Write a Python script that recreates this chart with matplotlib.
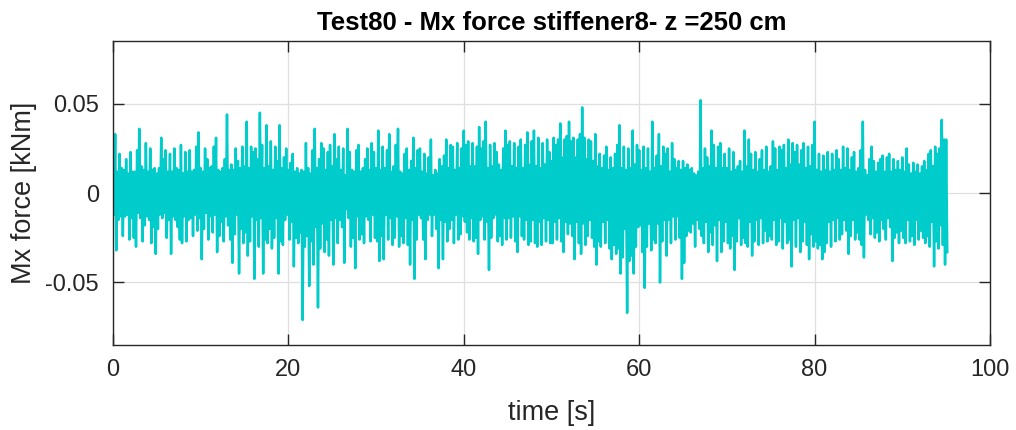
import numpy as np
import matplotlib
matplotlib.use("Agg")
import matplotlib.pyplot as plt

# Mx signal, in 1e-3 kNm, one value every 0.125 s
# (one row = 2.5 s)
dt = 0.125
mx_milli = [
    8, -12, 33, -32, 12, -15, 22, -13, 14, -24, 13, -13, 19, -12, 11, -26, 23, -14, 12, -25,
    12, -30, 24, -11, 36, -14, 15, -27, 13, -18, 28, -13, 12, -15, 25, -28, 13, -19, 14, -34,
    11, -20, 14, -12, 31, -14, 19, -11, 24, -25, 12, -15, 22, -34, 12, -13, 25, -15, 14, -19,
    13, -26, 27, -28, 11, -13, 23, -27, 12, -15, 24, -14, 12, -24, 13, -12, 26, -21, 34, -14,
    14, -37, 12, -20, 25, -11, 19, -26, 14, -13, 15, -22, 26, -12, 31, -33, 13, -24, 12, -16,
    14, -27, 19, -13, 44, -18, 13, -26, 16, -39, 13, -23, 25, -12, 18, -45, 14, -20, 26, -28,
    15, -22, 40, -35, 14, -27, 26, -13, 23, -48, 25, -15, 19, -30, 45, -14, 27, -45, 14, -26,
    38, -28, 15, -20, 29, -31, 13, -25, 26, -14, 18, -45, 38, -27, 14, -29, 20, -15, 25, -12,
    13, -26, 17, -16, 22, -41, 12, -25, 14, -28, 11, -22, 13, -71, 12, -30, 28, -24, 14, -52,
    11, -27, 24, -40, 36, -19, 14, -64, 19, -31, 28, -17, 25, -33, 13, -26, 23, -35, 27, -15,
    15, -40, 33, -14, 19, -28, 26, -15, 13, -19, 25, -39, 10, -9, 36, -14, 23, -30, 13, -25,
    12, -42, 24, -13, 27, -26, 12, -23, 14, -28, 19, -13, 25, -15, 13, -27, 28, -12, 23, -25,
    14, -27, 35, -38, 13, -24, 26, -37, 14, -12, 24, -26, 33, -14, 12, -29, 15, -25, 27, -13,
    36, -30, 12, -24, 11, -28, 22, -14, 25, -29, 13, -40, 18, -15, 31, -48, 14, -26, 24, -12,
    25, -14, 12, -26, 22, -37, 11, -15, 20, -12, 30, -24, 10, -12, 13, -20, 11, -42, 19, -15,
    15, -37, 21, -16, 30, -27, 14, -20, 27, -15, 26, -28, 13, -12, 28, -26, 14, -23, 25, -13,
    35, -16, 27, -22, 29, -26, 15, -14, 28, -27, 15, -25, 26, -34, 37, -15, 25, -13, 29, -26,
    40, -16, 14, -43, 27, -25, 15, -14, 28, -12, 23, -27, 16, -24, 13, -29, 25, -14, 35, -26,
    27, -14, 29, -25, 15, -13, 28, -27, 14, -33, 26, -13, 30, -24, 14, -26, 27, -15, 34, -29,
    16, -27, 29, -15, 35, -28, 15, -30, 31, -16, 14, -29, 28, -14, 16, -27, 30, -15, 23, -28,
    18, -28, 31, -16, 27, -26, 30, -14, 39, -27, 20, -33, 30, -16, 32, -23, 40, -17, 29, -24,
    31, -37, 20, -16, 30, -28, 33, -34, 48, -17, 31, -29, 19, -24, 30, -15, 29, -25, 18, -30,
    33, -40, 15, -27, 22, -30, 14, -16, 21, -28, 26, -15, 13, -31, 20, -37, 14, -29, 22, -34,
    27, -31, 38, -45, 14, -36, 26, -20, 13, -67, 25, -38, 14, -35, 35, -45, 16, -30, 27, -19,
    24, -18, 13, -33, 26, -53, 14, -30, 25, -17, 12, -32, 40, -26, 14, -28, 21, -17, 33, -50,
    15, -27, 26, -15, 22, -35, 25, -15, 12, -28, 28, -13, 19, -26, 14, -13, 18, -25, 13, -48,
    18, -39, 14, -24, 16, -21, 13, -22, 14, -17, 11, -30, 10, -15, 12, -20, 52, -24, 14, -28,
    25, -16, 20, -33, 15, -22, 35, -29, 27, -18, 14, -38, 26, -15, 28, -33, 14, -27, 22, -16,
    14, -28, 25, -31, 12, -24, 23, -43, 13, -27, 15, -14, 18, -29, 12, -25, 35, -28, 15, -30,
    30, -16, 22, -35, 13, -27, 23, -15, 12, -29, 19, -14, 24, -28, 13, -21, 26, -27, 12, -24,
    15, -26, 29, -15, 25, -29, 13, -27, 26, -14, 24, -31, 27, -16, 14, -28, 30, -26, 16, -41,
    28, -15, 23, -30, 27, -14, 16, -33, 24, -27, 28, -16, 14, -29, 26, -37, 15, -23, 27, -30,
    40, -27, 13, -31, 22, -29, 12, -37, 21, -33, 13, -28, 23, -16, 12, -30, 22, -15, 13, -27,
    24, -14, 19, -26, 13, -23, 26, -15, 14, -21, 25, -34, 13, -24, 20, -15, 23, -26, 12, -22,
    14, -26, 24, -29, 40, -36, 13, -12, 10, -15, 19, -23, 26, -14, 18, -25, 12, -22, 17, -27,
    19, -15, 21, -20, 12, -26, 20, -14, 22, -19, 12, -38, 19, -25, 13, -22, 18, -28, 13, -21,
    20, -25, 12, -28, 25, -15, 16, -27, 11, -24, 17, -29, 12, -15, 16, -26, 11, -21, 15, -25,
    18, -28, 13, -24, 22, -30, 24, -16, 15, -41, 26, -27, 22, -31, 25, -18, 41, -29, 30, -40,
    30, -33,
]
x_ticks = [0, 20, 40, 60, 80, 100]
y_ticks = [-0.05, 0, 0.05]
y_ticklabels = ['-0.05', '0', '0.05']

mx = np.array(mx_milli) / 1000.0
t = np.arange(len(mx)) * dt

plt.rcParams['font.family'] = ['Liberation Sans', 'DejaVu Sans']
plt.rcParams['axes.unicode_minus'] = False

dark = '#262626'
fig = plt.figure(figsize=(10.16, 4.30), dpi=100)
ax = fig.add_axes([0.1112, 0.1977, 0.8632, 0.7063])

ax.plot(t, mx, color='#00cccc', lw=1.8)

ax.set_xlim(0, 100)
ax.set_ylim(-0.085, 0.085)
ax.set_xticks(x_ticks)
ax.set_yticks(y_ticks, labels=y_ticklabels)
ax.grid(True, color='#dfdfdf', lw=0.9)
ax.set_axisbelow(True)

ax.tick_params(direction='in', length=8, width=1, colors=dark, labelsize=17,
               top=True, right=True, pad=10)
for s in ax.spines.values():
    s.set_color(dark)
    s.set_linewidth(1.0)

ax.set_xlabel('time [s]', fontsize=19.5, color=dark, labelpad=14)
ax.set_ylabel('Mx force [kNm]', fontsize=19.5, color=dark, labelpad=6)
ax.set_title('Test80 - Mx force stiffener8- z =250 cm', fontsize=18.5, fontweight='bold',
             color='black', pad=8)

fig.savefig('out.png', dpi=100)
